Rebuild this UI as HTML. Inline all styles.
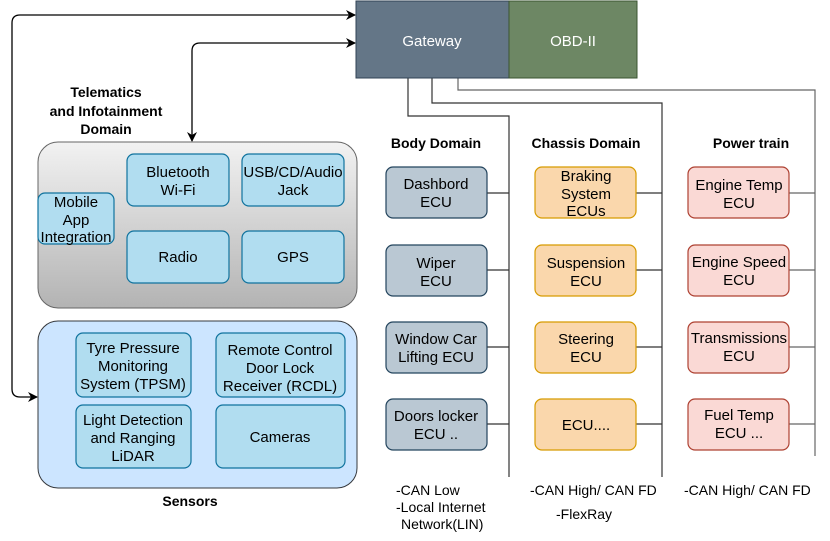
<!DOCTYPE html>
<html><head><meta charset="utf-8"><style>
body{margin:0;background:#fff;}
svg text{font-family:"Liberation Sans",Arial,sans-serif;}
</style></head><body>
<svg width="830" height="536" viewBox="0 0 830 536" xmlns="http://www.w3.org/2000/svg">
<defs>
<linearGradient id="gg" x1="0" y1="0" x2="0" y2="1"><stop offset="0" stop-color="#f2f2f2"/><stop offset="1" stop-color="#b3b3b3"/></linearGradient>
<marker id="ar" markerWidth="10" markerHeight="10" refX="9" refY="5" orient="auto-start-reverse" markerUnits="userSpaceOnUse"><path d="M0,0 L10,5 L0,10 L3,5 z" fill="#000"/></marker>
</defs>
<g fill="none" stroke="#333" stroke-width="1.2">
<path d="M408,78 V116 H509 V477"/>
<path d="M432,78 V103 H662 V477"/>
<path d="M458,78 V90 H815 V456" stroke="#666"/>
<path d="M487,193 H509 M487,270 H509 M487,347 H509 M487,424 H509"/>
<path d="M636,193 H662 M636,270 H662 M636,347 H662 M636,424 H662"/>
<path d="M789,193 H815 M789,270 H815 M789,347 H815 M789,424 H815" stroke="#666"/>
</g>
<rect x="356" y="1" width="153" height="77" fill="#647687" stroke="#314354"/>
<rect x="509" y="1" width="128" height="77" fill="#6d8764" stroke="#3a5431"/>
<g fill="none" stroke="#000" stroke-width="1.3">
<path d="M355,15 H20 Q12,15 12,23 V389 Q12,397 20,397 H37" marker-start="url(#ar)" marker-end="url(#ar)"/>
<path d="M355,43 H200 Q192,43 192,51 V141" marker-start="url(#ar)" marker-end="url(#ar)"/>
</g>
<text x="432" y="46" fill="#fff" font-size="15" text-anchor="middle">Gateway</text>
<text x="573" y="46" fill="#fff" font-size="15" text-anchor="middle">OBD-II</text>
<g font-size="14" font-weight="bold" text-anchor="middle" fill="#000">
<text x="106" y="97">Telematics</text><text x="106" y="116">and Infotainment</text><text x="106" y="134">Domain</text>
<text x="436" y="148">Body Domain</text><text x="586" y="148">Chassis Domain</text><text x="751" y="148">Power train</text>
<text x="190" y="506">Sensors</text>
</g>
<rect x="38" y="142" width="319" height="166" rx="20" fill="url(#gg)" stroke="#666"/>
<g fill="#b1ddf0" stroke="#10739e" stroke-width="1.2">
<rect x="127" y="154" width="102" height="52" rx="7"/><rect x="242" y="154" width="102" height="52" rx="7"/>
<rect x="127" y="231" width="102" height="52" rx="7"/><rect x="242" y="231" width="102" height="52" rx="7"/>
<rect x="38" y="193" width="76" height="51" rx="7"/>
</g>
<rect x="38" y="321" width="319" height="167" rx="20" fill="#cce5ff" stroke="#36393d"/>
<g fill="#b1ddf0" stroke="#10739e" stroke-width="1.2">
<rect x="76" y="333" width="115" height="64" rx="7"/><rect x="216" y="333" width="129" height="64" rx="7"/>
<rect x="76" y="405" width="115" height="63" rx="7"/><rect x="216" y="405" width="129" height="63" rx="7"/>
</g>
<g fill="#bac8d3" stroke="#23445d" stroke-width="1.2">
<rect x="386" y="167" width="101" height="51" rx="7"/><rect x="386" y="245" width="101" height="51" rx="7"/>
<rect x="386" y="322" width="101" height="51" rx="7"/><rect x="386" y="399" width="101" height="51" rx="7"/>
</g>
<g fill="#fad7ac" stroke="#d79b00" stroke-width="1.2">
<rect x="535" y="167" width="101" height="51" rx="7"/><rect x="535" y="245" width="101" height="51" rx="7"/>
<rect x="535" y="322" width="101" height="51" rx="7"/><rect x="535" y="399" width="101" height="51" rx="7"/>
</g>
<g fill="#fad9d5" stroke="#ae4132" stroke-width="1.2">
<rect x="688" y="167" width="101" height="51" rx="7"/><rect x="688" y="245" width="101" height="51" rx="7"/>
<rect x="688" y="322" width="101" height="51" rx="7"/><rect x="688" y="399" width="101" height="51" rx="7"/>
</g>
<g font-size="15" text-anchor="middle" fill="#000">
<text x="178" y="177">Bluetooth</text><text x="178" y="195">Wi-Fi</text>
<text x="293" y="177">USB/CD/Audio</text><text x="293" y="195">Jack</text>
<text x="178" y="262">Radio</text><text x="293" y="262">GPS</text>
<text x="76" y="207">Mobile</text><text x="76" y="225">App</text><text x="76" y="242">Integration</text>
<text x="133" y="353">Tyre Pressure</text><text x="133" y="371">Monitoring</text><text x="133" y="389">System (TPSM)</text>
<text x="280" y="355">Remote Control</text><text x="280" y="373">Door Lock</text><text x="280" y="391">Receiver (RCDL)</text>
<text x="133" y="425">Light Detection</text><text x="133" y="443">and Ranging</text><text x="133" y="461">LiDAR</text>
<text x="280" y="442">Cameras</text>
<text x="436" y="189">Dashbord</text><text x="436" y="207">ECU</text>
<text x="436" y="268">Wiper</text><text x="436" y="286">ECU</text>
<text x="436" y="344">Window Car</text><text x="436" y="362">Lifting ECU</text>
<text x="436" y="421">Doors locker</text><text x="436" y="439">ECU ..</text>
<text x="586" y="181">Braking</text><text x="586" y="199">System</text><text x="586" y="216">ECUs</text>
<text x="586" y="268">Suspension</text><text x="586" y="286">ECU</text>
<text x="586" y="344">Steering</text><text x="586" y="362">ECU</text>
<text x="586" y="430">ECU....</text>
<text x="739" y="190">Engine Temp</text><text x="739" y="208">ECU</text>
<text x="739" y="267">Engine Speed</text><text x="739" y="285">ECU</text>
<text x="739" y="343">Transmissions</text><text x="739" y="361">ECU</text>
<text x="739" y="420">Fuel Temp</text><text x="739" y="438">ECU ...</text>
</g>
<g font-size="14" fill="#000">
<text x="396" y="495">-CAN Low</text><text x="396" y="512">-Local Internet</text><text x="401" y="529">Network(LIN)</text>
<text x="530" y="495">-CAN High/ CAN FD</text><text x="556" y="519">-FlexRay</text>
<text x="684" y="495">-CAN High/ CAN FD</text>
</g>
</svg>
</body></html>
